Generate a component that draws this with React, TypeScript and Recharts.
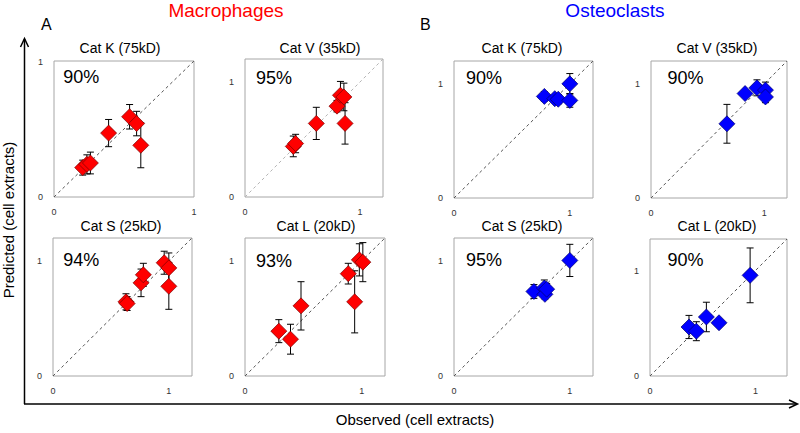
import { ScatterChart, Scatter, XAxis, YAxis, ErrorBar, ReferenceLine, ReferenceArea } from "recharts"

const FONT = "Arial, 'Liberation Sans', sans-serif"
const axisTicks = [0, 1]

// Macrophages (observed, predicted, +/- error)
const macKObs = [0.205, 0.235, 0.26, 0.39, 0.54, 0.59, 0.62]
const macKPred = [0.216, 0.24, 0.25, 0.47, 0.59, 0.54, 0.38]
const macKErr = [0.055, 0.07, 0.08, 0.1, 0.09, 0.09, 0.165]

const macVObs = [0.42, 0.44, 0.62, 0.8, 0.83, 0.86, 0.87]
const macVPred = [0.44, 0.465, 0.64, 0.79, 0.885, 0.87, 0.64]
const macVErr = [0.09, 0.08, 0.14, 0.05, 0.12, 0.12, 0.18]

const macSObs = [0.63, 0.64, 0.76, 0.78, 0.96, 1.0, 1.0]
const macSPred = [0.645, 0.63, 0.81, 0.88, 0.985, 0.94, 0.78]
const macSErr = [0.07, 0.06, 0.12, 0.1, 0.1, 0.13, 0.2]

const macLObs = [0.29, 0.39, 0.48, 0.885, 0.94, 0.98, 1.01]
const macLPred = [0.39, 0.32, 0.61, 0.89, 0.645, 1.01, 0.99]
const macLErr = [0.1, 0.13, 0.21, 0.09, 0.27, 0.14, 0.17]

// Osteoclasts
const ostKObs = [0.78, 0.87, 0.9, 1.0, 1.0]
const ostKPred = [0.89, 0.87, 0.865, 1.0, 0.855]
const ostKErr = [0.04, 0.03, 0.04, 0.09, 0.06]

const ostVObs = [0.67, 0.83, 0.935, 1.01, 1.01]
const ostVPred = [0.65, 0.915, 0.965, 0.945, 0.885]
const ostVErr = [0.17, 0.02, 0.07, 0.07, 0.05]

const ostSObs = [0.69, 0.78, 0.785, 0.8, 1.0]
const ostSPred = [0.735, 0.765, 0.71, 0.755, 1.005]
const ostSErr = [0.06, 0.07, 0.04, 0.05, 0.14]

const ostLObs = [0.37, 0.44, 0.535, 0.655, 0.95]
const ostLPred = [0.465, 0.425, 0.56, 0.505, 0.955]
const ostLErr = [0.11, 0.09, 0.14, 0.02, 0.26]

const RED = "#ff0000"
const BLUE = "#0000ff"

const panels = [
  { title: "Cat K (75kD)", pct: "90%", obs: macKObs, pred: macKPred, err: macKErr, max: 1, color: RED, edge: "#7a0000", left: 54, top: 61, w: 140, h: 136, titleX: 120, titleTop: 42.7, pctX: 63.3, pctTop: 70.7, diag: "#555" },
  { title: "Cat V (35kD)", pct: "95%", obs: macVObs, pred: macVPred, err: macVErr, max: 1.2, color: RED, edge: "#7a0000", left: 245, top: 59, w: 138, h: 138, titleX: 320, titleTop: 42.7, pctX: 256, pctTop: 71.7, diag: "#b5b5b5" },
  { title: "Cat S (25kD)", pct: "94%", obs: macSObs, pred: macSPred, err: macSErr, max: 1.2, color: RED, edge: "#7a0000", left: 53, top: 238, w: 139, h: 138, titleX: 121, titleTop: 220.5, pctX: 63.3, pctTop: 253.3, diag: "#555" },
  { title: "Cat L (20kD)", pct: "93%", obs: macLObs, pred: macLPred, err: macLErr, max: 1.2, color: RED, edge: "#7a0000", left: 245, top: 238, w: 140, h: 138, titleX: 316, titleTop: 220.5, pctX: 256, pctTop: 254, diag: "#555" },
  { title: "Cat K (75kD)", pct: "90%", obs: ostKObs, pred: ostKPred, err: ostKErr, max: 1.2, color: BLUE, edge: "#00006a", left: 454, top: 61, w: 139, h: 137, titleX: 522, titleTop: 42.7, pctX: 466, pctTop: 71.7, diag: "#555" },
  { title: "Cat V (35kD)", pct: "90%", obs: ostVObs, pred: ostVPred, err: ostVErr, max: 1.2, color: BLUE, edge: "#00006a", left: 651, top: 61, w: 136, h: 137, titleX: 717, titleTop: 42.7, pctX: 667.5, pctTop: 71.7, diag: "#555" },
  { title: "Cat S (25kD)", pct: "95%", obs: ostSObs, pred: ostSPred, err: ostSErr, max: 1.2, color: BLUE, edge: "#00006a", left: 454, top: 238, w: 139, h: 138, titleX: 522, titleTop: 220.5, pctX: 466, pctTop: 253.3, diag: "#555" },
  { title: "Cat L (20kD)", pct: "90%", obs: ostLObs, pred: ostLPred, err: ostLErr, max: 1.3, color: BLUE, edge: "#00006a", left: 650, top: 239, w: 137, h: 137, titleX: 717, titleTop: 220.5, pctX: 667.5, pctTop: 253.3, diag: "#555" },
]

const Diamond = (props: any) => {
  const { cx, cy, fill, edge } = props
  if (cx == null || cy == null) return null
  const r = 8
  return (
    <polygon
      points={`${cx},${cy - r} ${cx + r},${cy} ${cx},${cy + r} ${cx - r},${cy}`}
      fill={fill}
      stroke={edge}
      strokeWidth={0.7}
    />
  )
}

const YW = 24
const XH = 24
const MT = 4
const MR = 4

const SmallPlot = ({ p }: { p: any }) => {
  const data = p.obs.map((x: number, i: number) => ({ x, y: p.pred[i], err: p.err[i] }))
  const tickStyle = { fontSize: 9, fill: "#333", fontFamily: FONT }
  return (
    <div style={{ position: "absolute", left: p.left - YW, top: p.top - MT }}>
      <ScatterChart
        width={YW + p.w + MR}
        height={MT + p.h + XH}
        margin={{ top: MT, right: MR, bottom: 0, left: 0 }}
        style={{ overflow: "visible" }}
      >
        <XAxis type="number" dataKey="x" domain={[0, p.max]} ticks={axisTicks} allowDataOverflow
          axisLine={false} tickLine={false} height={XH} tickMargin={6} tick={tickStyle} />
        <YAxis type="number" dataKey="y" domain={[0, p.max]} ticks={axisTicks} allowDataOverflow
          axisLine={false} tickLine={false} width={YW} tickMargin={5} tick={tickStyle} />
        <ReferenceArea x1={0} x2={p.max} y1={0} y2={p.max} fill="none" fillOpacity={0} stroke="#a6a6a6" strokeWidth={1} />
        <ReferenceLine segment={[{ x: 0, y: 0 }, { x: p.max, y: p.max }]} stroke={p.diag} strokeDasharray="3 3" strokeWidth={1} />
        <Scatter data={data} fill={p.color} isAnimationActive={false}
          shape={(s: any) => <Diamond {...s} fill={p.color} edge={p.edge} />}>
          <ErrorBar dataKey="err" direction="y" width={3.5} stroke="#000" strokeWidth={1} isAnimationActive={false} />
        </Scatter>
      </ScatterChart>
    </div>
  )
}

export default function App() {
  return (
    <div style={{ position: "absolute", left: 0, top: 0, width: 800, height: 433, background: "#fff", fontFamily: FONT, overflow: "hidden" }}>
      <svg width={800} height={433} style={{ position: "absolute", left: 0, top: 0 }}>
        {/* big L-shaped axes with arrows */}
        <line x1={24.5} y1={404} x2={24.5} y2={39} stroke="#000" strokeWidth={1.5} />
        <polyline points="20.5,47 24.5,38.5 28.5,47" fill="none" stroke="#000" strokeWidth={1.5} />
        <line x1={24} y1={404} x2={797} y2={404} stroke="#000" strokeWidth={1.5} />
        <polyline points="789,400 797.5,404 789,408" fill="none" stroke="#000" strokeWidth={1.5} />
        <text x={415} y={425} textAnchor="middle" fontSize={15} fontFamily={FONT} fill="#000">Observed (cell extracts)</text>
        <text x={14} y={220} textAnchor="middle" fontSize={15} fontFamily={FONT} fill="#000" transform="rotate(-90 14 220)">Predicted (cell extracts)</text>
        <text x={226} y={17} textAnchor="middle" fontSize={19} fontFamily={FONT} fill={RED}>Macrophages</text>
        <text x={615} y={17} textAnchor="middle" fontSize={19} fontFamily={FONT} fill={BLUE}>Osteoclasts</text>
        <text x={41} y={30} fontSize={16} fontFamily={FONT} fill="#000">A</text>
        <text x={420} y={30} fontSize={16} fontFamily={FONT} fill="#000">B</text>
      </svg>
      {panels.map((p, i) => (
        <SmallPlot key={i} p={p} />
      ))}
      {panels.map((p, i) => (
        <div key={"t" + i}>
          <div style={{ position: "absolute", left: p.titleX - 80, width: 160, textAlign: "center", top: p.titleTop - 1.8, fontSize: 14, lineHeight: "14px", color: "#000" }}>
            {p.title}
          </div>
          <div style={{ position: "absolute", left: p.pctX, top: p.pctTop - 2.3, fontSize: 18, lineHeight: "18px", color: "#000" }}>
            {p.pct}
          </div>
        </div>
      ))}
    </div>
  )
}
